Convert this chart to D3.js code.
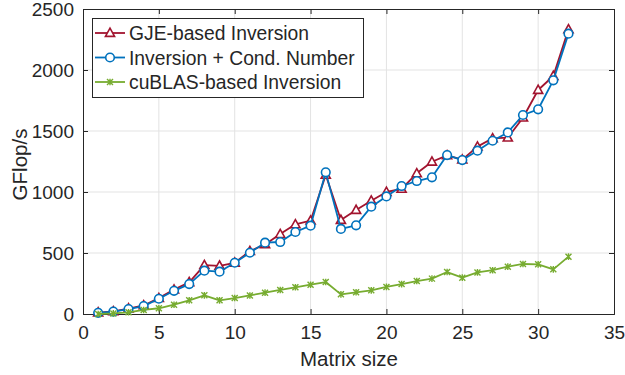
<!DOCTYPE html>
<html>
<head>
<meta charset="utf-8">
<script src="https://cdn.jsdelivr.net/npm/d3@7"></script>
<style>
  body { margin: 0; background: #fff; }
  text { font-family: "Liberation Sans", Arial, Helvetica, sans-serif; fill: #262626; }
</style>
</head>
<body>
<svg width="625" height="375"></svg>
<script>
const width = 625;
const height = 375;
const margin = {top: 9, right: 11, bottom: 61, left: 83};

// matrix sizes 1..32
const sizes = [1, 2, 3, 4, 5, 6, 7, 8, 9, 10, 11, 12, 13, 14, 15, 16,
               17, 18, 19, 20, 21, 22, 23, 24, 25, 26, 27, 28, 29, 30, 31, 32];
const gje = [12, 22, 45, 70, 130, 200, 260, 400, 395, 420, 515, 570, 655, 735, 765, 1140,
             770, 852, 929, 1000, 1025, 1153, 1248, 1300, 1265, 1372, 1440, 1445, 1609, 1836, 1951, 2333];
const cond = [10, 20, 40, 65, 125, 190, 245, 355, 347, 420, 502, 585, 590, 672, 724, 1161,
              697, 727, 880, 964, 1049, 1090, 1120, 1303, 1262, 1339, 1420, 1488, 1631, 1678, 1915, 2298];
const cublas = [0, 5, 14, 33, 47, 76, 112, 153, 112, 131, 152, 175, 197, 219, 240, 262,
                161, 178, 194, 222, 245, 270, 290, 344, 298, 341, 359, 388, 410, 407, 366, 470];
const xTicks = [0, 5, 10, 15, 20, 25, 30, 35];
const yTicks = [0, 500, 1000, 1500, 2000, 2500];
const seriesNames = ["GJE-based Inversion", "Inversion + Cond. Number", "cuBLAS-based Inversion"];

const series = [
  {name: seriesNames[0], values: gje, color: '#A2142F', marker: 'triangle'},
  {name: seriesNames[1], values: cond, color: '#0072BD', marker: 'circle'},
  {name: seriesNames[2], values: cublas, color: '#77AC30', marker: 'star'}
];

const svg = d3.select('svg');

const xScale = d3.scaleLinear()
                  .domain([0, 35])
                  .range([margin.left, width - margin.right]);
const yScale = d3.scaleLinear()
                  .domain([0, 2500])
                  .range([height - margin.bottom, margin.top]);

const axisColor = '#262626';

// grid
svg.append('g')
    .selectAll('line')
    .data(xTicks.slice(1, -1))
    .enter()
    .append('line')
        .attr('x1', d => xScale(d)).attr('x2', d => xScale(d))
        .attr('y1', yScale(0)).attr('y2', yScale(2500))
        .attr('stroke', '#e3e3e3').attr('stroke-width', 1)
svg.append('g')
    .selectAll('line')
    .data(yTicks.slice(1, -1))
    .enter()
    .append('line')
        .attr('x1', xScale(0)).attr('x2', xScale(35))
        .attr('y1', d => yScale(d)).attr('y2', d => yScale(d))
        .attr('stroke', '#e3e3e3').attr('stroke-width', 1)

// axes (ticks inside, MATLAB style)
const xAxis = d3.axisBottom(xScale).tickValues(xTicks).tickSize(-5).tickPadding(12).tickFormat(d3.format('d'));
const yAxis = d3.axisLeft(yScale).tickValues(yTicks).tickSize(-5).tickPadding(9).tickFormat(d3.format('d'));
const xAxisTop = d3.axisTop(xScale).tickValues(xTicks).tickSize(-5).tickFormat('');
const yAxisRight = d3.axisRight(yScale).tickValues(yTicks).tickSize(-5).tickFormat('');

const gx = svg.append('g')
    .attr('transform', 'translate(0,' + yScale(0) + ')')
    .call(xAxis)
const gy = svg.append('g')
    .attr('transform', 'translate(' + xScale(0) + ',0)')
    .call(yAxis)
const gxt = svg.append('g')
    .attr('transform', 'translate(0,' + yScale(2500) + ')')
    .call(xAxisTop)
const gyr = svg.append('g')
    .attr('transform', 'translate(' + xScale(35) + ',0)')
    .call(yAxisRight)

;[gx, gy, gxt, gyr].forEach(g => {
  g.selectAll('path').attr('stroke', axisColor).attr('stroke-width', 1);
  g.selectAll('line').attr('stroke', axisColor).attr('stroke-width', 1);
  g.selectAll('text').attr('font-size', '19px').attr('fill', axisColor)
      .style('font-family', '"Liberation Sans", Arial, sans-serif');
});

// axis labels
svg.append('text')
    .text('Matrix size')
    .attr('x', xScale(17.5) + 0.5)
    .attr('y', 366)
    .attr('text-anchor', 'middle')
    .attr('font-size', '20.5px')
svg.append('text')
    .text('GFlop/s')
    .attr('transform', 'translate(27,' + ((yScale(0) + yScale(2500)) / 2 + 3) + ') rotate(-90)')
    .attr('text-anchor', 'middle')
    .attr('font-size', '20.5px')

// markers
function drawMarker(g, type, color) {
  if (type === 'circle') {
    g.append('circle').attr('r', 4.3)
        .attr('fill', '#fff').attr('stroke', color).attr('stroke-width', 1.6);
  } else if (type === 'triangle') {
    const s = 4.8;
    g.append('path')
        .attr('d', `M0,${-s} L${s * 0.95},${s * 0.7} L${-s * 0.95},${s * 0.7} Z`)
        .attr('fill', '#fff').attr('stroke', color).attr('stroke-width', 1.6);
  } else {
    const s = 3;
    g.append('path')
        .attr('d', `M${-s},${-s}L${s},${s}M${-s},${s}L${s},${-s}M0,${-s * 1.1}L0,${s * 1.1}`)
        .attr('fill', 'none').attr('stroke', color).attr('stroke-width', 1.4);
  }
}

const line = d3.line()
                .x((d, i) => xScale(sizes[i]))
                .y(d => yScale(d));

series.forEach(s => {
  const g = svg.append('g');
  g.append('path')
      .datum(s.values)
      .attr('d', line)
      .attr('fill', 'none')
      .attr('stroke', s.color)
      .attr('stroke-width', 1.8)
      .attr('stroke-linejoin', 'round');
  g.selectAll('.pt')
      .data(s.values)
      .enter()
      .append('g')
          .classed('pt', true)
          .attr('transform', (d, i) => 'translate(' + xScale(sizes[i]) + ',' + yScale(d) + ')')
          .each(function() { drawMarker(d3.select(this), s.marker, s.color); });
});

// legend
const legend = svg.append('g');
legend.append('rect')
    .attr('x', 92.5).attr('y', 18.5)
    .attr('width', 271).attr('height', 79)
    .attr('fill', '#fff').attr('stroke', axisColor).attr('stroke-width', 1);
series.forEach((s, i) => {
  const y = 33 + i * 24.5;
  const row = legend.append('g');
  row.append('line')
      .attr('x1', 95).attr('x2', 125)
      .attr('y1', y).attr('y2', y)
      .attr('stroke', s.color).attr('stroke-width', 1.8);
  drawMarker(row.append('g').attr('transform', 'translate(110,' + y + ')'), s.marker, s.color);
  row.append('text')
      .text(s.name)
      .attr('x', 129)
      .attr('y', y + 7)
      .attr('font-size', '19.3px')
});
</script>
</body>
</html>
